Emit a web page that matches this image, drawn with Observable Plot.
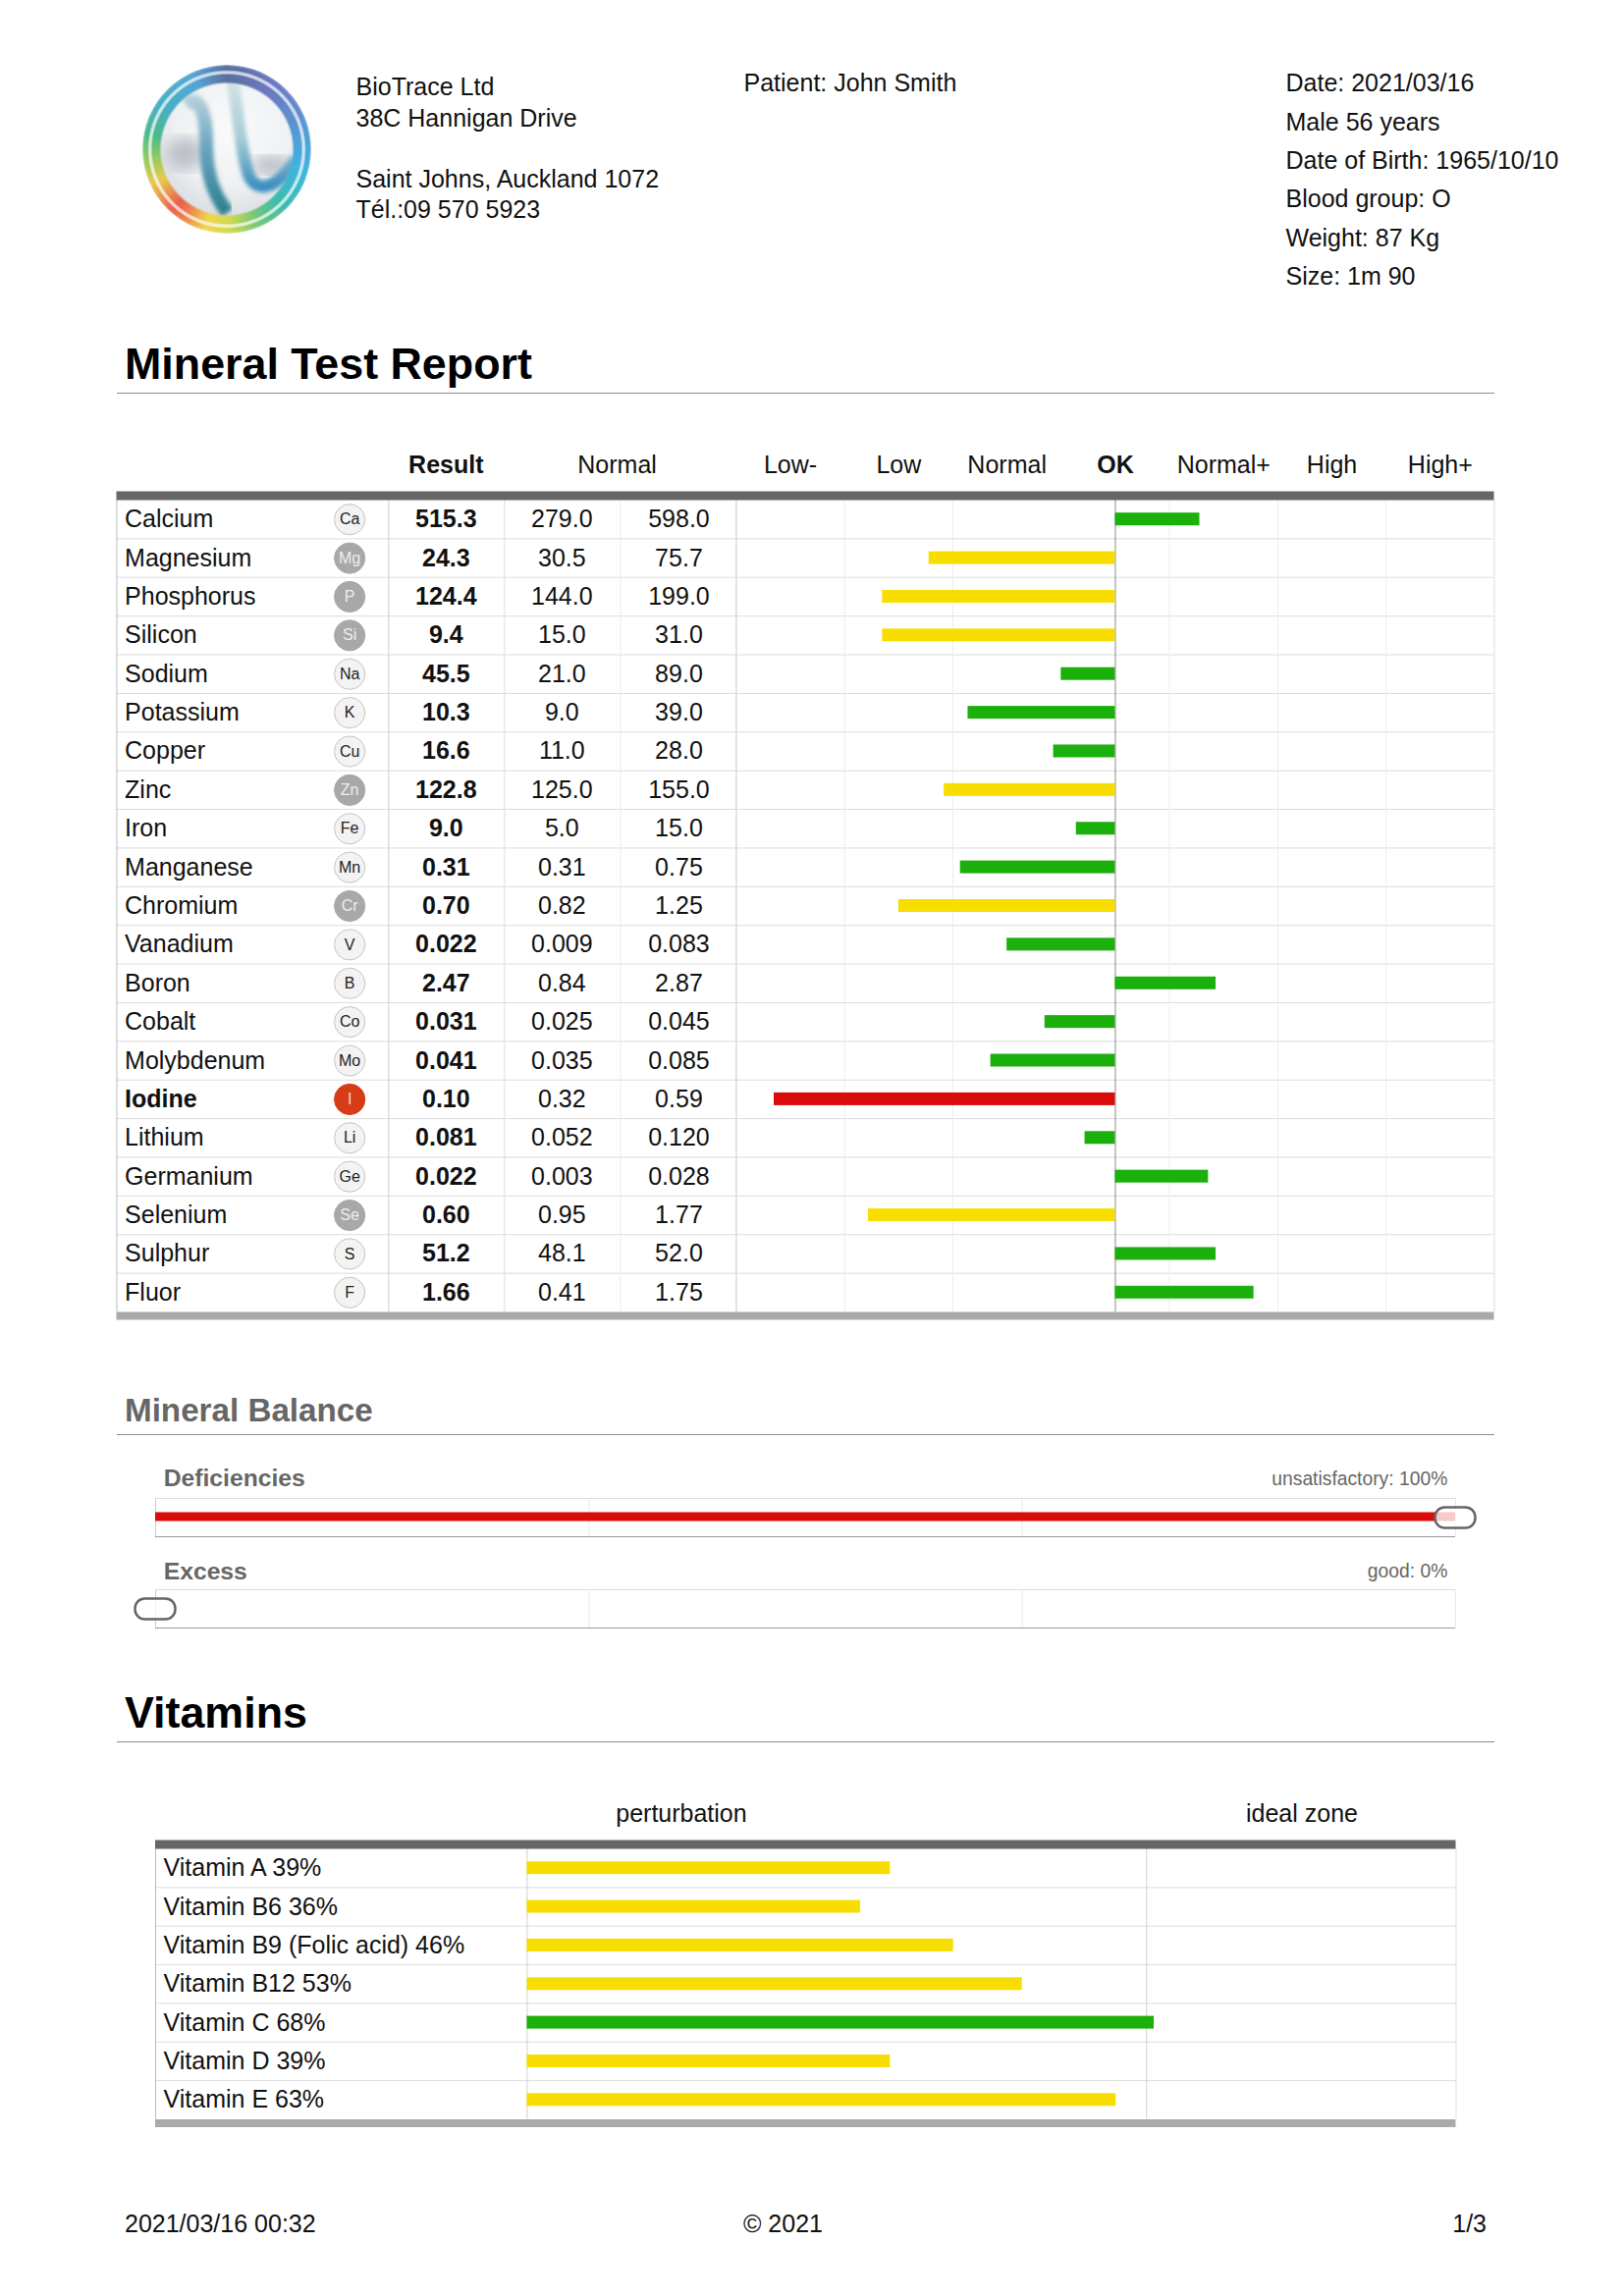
<!DOCTYPE html>
<html><head><meta charset="utf-8">
<script src="https://cdn.jsdelivr.net/npm/d3@7"></script>
<script src="https://cdn.jsdelivr.net/npm/@observablehq/plot@0.6"></script>
<style>
html,body{margin:0;background:#fff}
#page{position:relative;width:1654px;height:2339px;overflow:hidden;font-family:"Liberation Sans",Arial,sans-serif;color:#111;background:#fff}
.t{position:absolute;white-space:nowrap;line-height:1;font-size:25px;transform:translateY(-50%)}
.h{font-weight:bold;font-size:44.8px;color:#000}
.line{position:absolute;left:119px;width:1403px;height:1px;background:#8c8c8c}
.pl{position:absolute;left:0}
#logo{position:absolute;left:120px;top:50px;width:230px;height:210px}
#ring,#shine{position:absolute;left:25px;top:16px;width:172px;height:172px;border-radius:50%}
#ring{filter:blur(.9px);
 background:conic-gradient(from 0deg,#5a6f9f 0deg,#6d78c0 35deg,#5a93d2 70deg,#3fb4e0 105deg,#3cbcae 135deg,#6cc67a 155deg,#cfd94f 178deg,#f0d64e 195deg,#ee7a4c 213deg,#e95f50 222deg,#e9c850 245deg,#98cc5e 262deg,#4cba8a 280deg,#48afc8 305deg,#55a6d4 335deg,#5a6f9f 360deg);
 -webkit-mask:radial-gradient(closest-side,transparent 77%,#000 80%);mask:radial-gradient(closest-side,transparent 77%,#000 80%)}
#shine{filter:blur(.7px);background:radial-gradient(closest-side,transparent 88%,rgba(255,255,255,.7) 90%,rgba(255,255,255,.7) 92%,transparent 94%)}
#logo svg{position:absolute;left:0;top:0}
</style></head>
<body><div id="page">
<div id="logo">
<svg width="230" height="210" viewBox="0 0 690 630">
<defs>
<filter id="b1"><feGaussianBlur stdDeviation="6"/></filter>
<filter id="b2"><feGaussianBlur stdDeviation="22"/></filter>
<radialGradient id="core" cx="55%" cy="35%" r="70%"><stop offset="0" stop-color="#fbfbfb"/><stop offset=".6" stop-color="#eef0f2"/><stop offset="1" stop-color="#d6dade"/></radialGradient>
<linearGradient id="s2" x1="0" y1="0" x2="0" y2="1"><stop offset="0" stop-color="#d2e3e7"/><stop offset=".55" stop-color="#a6cbd6"/><stop offset="1" stop-color="#3d8fc0"/></linearGradient>
<linearGradient id="s1" x1="0" y1="0" x2="0" y2="1"><stop offset="0" stop-color="#b0cdd9"/><stop offset=".4" stop-color="#6ba6c2"/><stop offset="1" stop-color="#2f7f90"/></linearGradient>
</defs>
<circle cx="333" cy="305" r="212" fill="url(#core)"/>
<ellipse cx="205" cy="320" rx="60" ry="50" fill="#bcc0c8" filter="url(#b2)"/>
<ellipse cx="470" cy="355" rx="60" ry="26" fill="#b4b8c0" filter="url(#b2)"/>
<path d="M210 170C250 135 270 200 270 285C270 380 290 440 335 500" fill="none" stroke="url(#s1)" stroke-width="42" filter="url(#b1)"/>
<path d="M350 95C370 200 372 300 400 385C425 445 490 425 545 335" fill="none" stroke="url(#s2)" stroke-width="38" filter="url(#b1)"/>
</svg>
<div id="ring"></div><div id="shine"></div>
</div>

<div class="t" style="left:362.5px;top:88px">BioTrace Ltd</div>
<div class="t" style="left:362.5px;top:119.5px">38C Hannigan Drive</div>
<div class="t" style="left:362.5px;top:182px">Saint Johns, Auckland 1072</div>
<div class="t" style="left:362.5px;top:213px">Tél.:09 570 5923</div>
<div class="t" style="left:757.5px;top:84px">Patient: John Smith</div>
<div class="t" style="left:1309.5px;top:84px">Date: 2021/03/16</div>
<div class="t" style="left:1309.5px;top:123.5px">Male 56 years</div>
<div class="t" style="left:1309.5px;top:163px">Date of Birth: 1965/10/10</div>
<div class="t" style="left:1309.5px;top:202px">Blood group: O</div>
<div class="t" style="left:1309.5px;top:241.5px">Weight: 87 Kg</div>
<div class="t" style="left:1309.5px;top:281px">Size: 1m 90</div>

<div class="t h" style="left:127px;top:369.5px">Mineral Test Report</div>
<div class="line" style="top:400px"></div>
<div class="t" style="left:127px;top:1437px;font-weight:bold;font-size:33.2px;color:#666">Mineral Balance</div>
<div class="line" style="top:1461px"></div>
<div class="t h" style="left:127px;top:1743.5px">Vitamins</div>
<div class="line" style="top:1774px"></div>
<div class="t" style="left:127px;top:2265px">2021/03/16 00:32</div>
<div class="t" style="left:757px;top:2265px">© 2021</div>
<div class="t" style="right:140px;top:2265px">1/3</div>
</div>
<script>
// ---------- data ----------
const minerals = ["Calcium","Magnesium","Phosphorus","Silicon","Sodium","Potassium","Copper","Zinc","Iron","Manganese","Chromium","Vanadium","Boron","Cobalt","Molybdenum","Iodine","Lithium","Germanium","Selenium","Sulphur","Fluor"];
const symbols = ["Ca","Mg","P","Si","Na","K","Cu","Zn","Fe","Mn","Cr","V","B","Co","Mo","I","Li","Ge","Se","S","F"];
const results = ["515.3","24.3","124.4","9.4","45.5","10.3","16.6","122.8","9.0","0.31","0.70","0.022","2.47","0.031","0.041","0.10","0.081","0.022","0.60","51.2","1.66"];
const normalLow = ["279.0","30.5","144.0","15.0","21.0","9.0","11.0","125.0","5.0","0.31","0.82","0.009","0.84","0.025","0.035","0.32","0.052","0.003","0.95","48.1","0.41"];
const normalHigh = ["598.0","75.7","199.0","31.0","89.0","39.0","28.0","155.0","15.0","0.75","1.25","0.083","2.87","0.045","0.085","0.59","0.120","0.028","1.77","52.0","1.75"];
// deviation from "OK", in units of one band of the Low- ... High+ scale
const levels = [0.78,-1.72,-2.15,-2.15,-0.5,-1.36,-0.57,-1.58,-0.36,-1.43,-2,-1,0.93,-0.65,-1.15,-3.15,-0.28,0.86,-2.28,0.93,1.28];
const statuses = ["ok","low","low","low","ok","ok","ok","low","ok","ok","low","ok","ok","ok","ok","critical","ok","ok","low","ok","ok"];
const bandLabels = ["Low-","Low","Normal","OK","Normal+","High","High+"];
const bandCentres = [-3,-2,-1,0,1,2,3];
const balanceNames = ["Deficiencies","Excess"];
const balanceValues = [100,0];
const balanceLabels = ["unsatisfactory: 100%","good: 0%"];
const balanceTicks = [0,100/3,200/3,100];
const vitamins = ["Vitamin A","Vitamin B6","Vitamin B9 (Folic acid)","Vitamin B12","Vitamin C","Vitamin D","Vitamin E"];
const vitaminPercent = [39,36,46,53,68,39,63];
const vitaminBars = [39.1,35.9,45.9,53.3,67.5,39.1,63.4];
const vitaminStatus = ["low","low","low","low","ok","low","low"];
const vitaminZones = [["perturbation",16.6],["ideal zone",83.4]];
const idealZoneStart = 66.68;

// ---------- styles ----------
const FONT = '"Liberation Sans",Arial,sans-serif';
const barColor = {ok:"#1bb00b",low:"#f7de00",critical:"#d90b0b"};
const dotFill = {ok:"#f3f3f3",low:"#a8a8a8",critical:"#d63c17"};
const dotStroke = {ok:"#c4c4c4",low:"#a8a8a8",critical:"#d63c17"};
const dotText = {ok:"#222",low:"#eee",critical:"#f5d5c5"};
const FS = 25, INK = "#111";
const style = {background:"transparent",fontFamily:FONT,overflow:"visible"};
const page = document.getElementById("page");
function place(svg, top){ const d=document.createElement("div"); d.className="pl"; d.style.top=top+"px"; d.appendChild(svg); page.appendChild(d); }

// ---------- mineral table ----------
const rows = minerals.map((name,i)=>({i,name,symbol:symbols[i],result:results[i],low:normalLow[i],high:normalHigh[i],level:levels[i],status:statuses[i]}));
const n = rows.length;
const cx = {left:-9.22,name:-9.147,symbol:-7.07,sepA:-6.71,result:-6.18,sepB:-5.64,lowc:-5.11,sepC:-4.57,normalHead:-4.6,highc:-4.03,right:3.5};
const rowMid = d=>d.i+0.5;
const headerY = -0.895;
const mTop = 440;
const rowLines = d3.range(1,n);
place(Plot.plot({
  width:1654,height:910,style,
  x:{domain:[cx.left,cx.right],range:[118.5,1521.5],axis:null},
  y:{domain:[0,n],range:[509-mTop,1336-mTop],axis:null},
  color:{type:"identity"},
  marks:[
    Plot.ruleY(rowLines,{x1:cx.left,x2:cx.right,stroke:"#dcdcdc",strokeWidth:1}),
    Plot.ruleX([-3.5,-2.5,-1.5,0.5,1.5,2.5],{y1:0,y2:n,stroke:"#eeeeee",strokeWidth:1}),
    Plot.ruleX([cx.sepC],{y1:0,y2:n,stroke:"#ececec"}),
    Plot.ruleX([cx.sepB],{y1:0,y2:n,stroke:"#dddddd"}),
    Plot.ruleX([cx.sepA,-3.5],{y1:0,y2:n,stroke:"#cfcfcf"}),
    Plot.ruleX([cx.left],{y1:0,y2:n,stroke:"#bbbbbb"}),
    Plot.ruleX([cx.right],{y1:0,y2:n,stroke:"#dddddd"}),
    Plot.ruleX([0],{y1:0,y2:n,stroke:"#8c8c8c",strokeWidth:1}),
    Plot.ruleY([0],{x1:cx.left,x2:cx.right,stroke:"#666666",strokeWidth:9,dy:-4.5}),
    Plot.ruleY([n],{x1:cx.left,x2:cx.right,stroke:"#aaaaaa",strokeWidth:8,dy:4}),
    Plot.rect(rows,{x1:0,x2:"level",y1:d=>d.i+0.335,y2:d=>d.i+0.665,fill:d=>barColor[d.status]}),
    Plot.text(rows.filter(d=>d.status!=="critical"),{x:cx.name,y:rowMid,text:"name",textAnchor:"start",fontSize:FS,fill:INK}),
    Plot.text(rows.filter(d=>d.status==="critical"),{x:cx.name,y:rowMid,text:"name",textAnchor:"start",fontSize:FS,fontWeight:"bold",fill:INK}),
    Plot.dot(rows,{x:cx.symbol,y:rowMid,r:15.6,fill:d=>dotFill[d.status],stroke:d=>dotStroke[d.status],strokeWidth:1}),
    Plot.text(rows,{x:cx.symbol,y:rowMid,text:"symbol",fontSize:16,fill:d=>dotText[d.status]}),
    Plot.text(rows,{x:cx.result,y:rowMid,text:"result",fontSize:FS,fontWeight:"bold",fill:INK}),
    Plot.text(rows,{x:cx.lowc,y:rowMid,text:"low",fontSize:FS,fill:INK}),
    Plot.text(rows,{x:cx.highc,y:rowMid,text:"high",fontSize:FS,fill:INK}),
    Plot.text(["Result"],{x:cx.result,y:headerY,text:d=>d,fontSize:FS,fontWeight:"bold",fill:INK}),
    Plot.text(["Normal"],{x:cx.normalHead,y:headerY,text:d=>d,fontSize:FS,fill:INK}),
    Plot.text(bandLabels.map((l,i)=>({l,c:bandCentres[i]})).filter(d=>d.c!==0),{x:"c",y:headerY,text:"l",fontSize:FS,fill:INK}),
    Plot.text(bandLabels.map((l,i)=>({l,c:bandCentres[i]})).filter(d=>d.c===0),{x:"c",y:headerY,text:"l",fontSize:FS,fontWeight:"bold",fill:INK})
  ]
}), mTop);

// ---------- mineral balance ----------
const balance = balanceNames.map((name,i)=>({name,value:balanceValues[i],label:balanceLabels[i]}));
const bTop = 1480;
const gridTicks = balanceNames.flatMap(name=>balanceTicks.map(t=>({name,t})));
place(Plot.plot({
  width:1654,height:200,style,
  x:{domain:[0,100],range:[158,1482],axis:null},
  y:{type:"band",domain:balanceNames,range:[1525-bTop,1658-bTop],paddingInner:0.585,paddingOuter:0,axis:null},
  marks:[
    Plot.ruleY(balanceNames,{y:d=>d,x1:0,x2:100,dy:-19.5,stroke:"#dddddd"}),
    Plot.ruleY(balanceNames,{y:d=>d,x1:0,x2:100,dy:19.5,stroke:"#9a9a9a"}),
    Plot.tickX(gridTicks,{x:"t",y:"name",stroke:d=>d.t===0?"#cccccc":"#e8e8e8"}),
    Plot.barX(balance,{x1:0,x2:"value",y:"name",insetTop:14.5,insetBottom:15.5,fill:"#d90b0b"}),
    Plot.rect(balance,{x1:"value",x2:"value",y:"name",insetLeft:-20.5,insetRight:-20.5,insetTop:9.5,insetBottom:8.5,rx:10,fill:"#fff",fillOpacity:0.78,stroke:"#666",strokeWidth:2.5}),
    Plot.text(balance.slice(0,1),{x:0.62,y:"name",text:"name",dy:-39.5,textAnchor:"start",fontSize:24.7,fontWeight:"bold",fill:"#666"}),
    Plot.text(balance.slice(1),{x:0.62,y:"name",text:"name",dy:-38,textAnchor:"start",fontSize:24.7,fontWeight:"bold",fill:"#666"}),
    Plot.text(balance.slice(0,1),{x:99.38,y:"name",text:"label",dy:-39.5,textAnchor:"end",fontSize:19.3,fill:"#666"}),
    Plot.text(balance.slice(1),{x:99.38,y:"name",text:"label",dy:-38,textAnchor:"end",fontSize:19.3,fill:"#666"})
  ]
}), bTop);

// ---------- vitamins ----------
const vit = vitamins.map((name,i)=>({i,name,bar:vitaminBars[i],status:vitaminStatus[i],label:`${name} ${vitaminPercent[i]}%`}));
const m = vit.length, vTop = 1820;
place(Plot.plot({
  width:1654,height:360,style,
  x:{domain:[-40,100],range:[158,1482.5],axis:null},
  y:{domain:[0,m],range:[1883-vTop,2158.5-vTop],axis:null},
  color:{type:"identity"},
  marks:[
    Plot.ruleY(d3.range(1,m),{x1:-40,x2:100,stroke:"#dcdcdc"}),
    Plot.ruleX([0],{y1:0,y2:m,stroke:"#cfcfcf"}),
    Plot.ruleX([idealZoneStart],{y1:0,y2:m,stroke:"#d0d0d0"}),
    Plot.ruleX([-40],{y1:0,y2:m,stroke:"#bbbbbb"}),
    Plot.ruleX([100],{y1:0,y2:m,stroke:"#dddddd"}),
    Plot.ruleY([0],{x1:-40,x2:100,stroke:"#666666",strokeWidth:9,dy:-4.5}),
    Plot.ruleY([m],{x1:-40,x2:100,stroke:"#aaaaaa",strokeWidth:8,dy:4}),
    Plot.rect(vit,{x1:0,x2:"bar",y1:d=>d.i+0.335,y2:d=>d.i+0.665,fill:d=>barColor[d.status]}),
    Plot.text(vit,{x:-39.15,y:rowMid,text:"label",textAnchor:"start",fontSize:FS,fill:INK}),
    Plot.text(vitaminZones,{x:d=>d[1],y:-0.89,text:d=>d[0],fontSize:FS,fill:INK})
  ]
}), vTop);
</script>
</body></html>
